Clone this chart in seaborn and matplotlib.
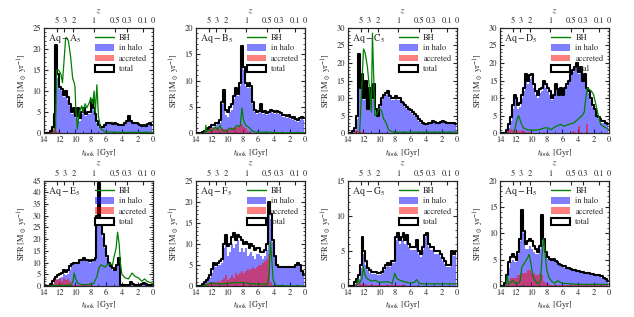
import numpy as np
import matplotlib
matplotlib.use("Agg")
import matplotlib.pyplot as plt
from matplotlib.lines import Line2D
from matplotlib.patches import Patch
from matplotlib.ticker import MultipleLocator, AutoMinorLocator
import seaborn as sns

# lookback-time bin centres, 0.25 Gyr wide, oldest first
t_bins = np.arange(13.875, 0, -0.25)

z_ticks = [5, 3, 2, 1, 0.5, 0.3, 0.1, 0]
z_labels = ["5", "3", "2", "1", "0.5", "0.3", "0.1", "0"]

names = ["A", "B", "C", "D", "E", "F", "G", "H"]
ymax = [25, 20, 30, 30, 45, 25, 15, 20]

# ---- Aq-A5
A_total = [0, 0, 0, 0.5, 1.5, 4.5, 21, 14,
           11, 10.5, 9, 10, 8.5, 7, 5, 6,
           4, 6, 3.5, 5, 6, 4.5, 5, 5,
           8, 6, 4.5, 3, 2, 1.5, 1.5, 2,
           2.5, 2.5, 2.5, 2.2, 2.5, 2.2, 2, 2,
           2, 2.5, 3, 4, 3, 2.5, 2.5, 2.5,
           2.2, 2, 1.8, 2, 1.8, 2.2, 2.5, 2]
A_halo = [0, 0, 0, 0.3, 0.8, 3.5, 12, 13,
          10.5, 10, 8.5, 9.5, 8, 6.5, 4.5, 5.5,
          3.5, 5.5, 3, 4.5, 5.5, 4, 4.5, 4.5,
          7.5, 5.5, 4, 2.5, 1.5, 1.2, 1.2, 1.8,
          2.2, 2.2, 2.2, 2, 2.2, 2, 1.8, 1.8,
          1.8, 2.2, 2.8, 3.8, 2.8, 2.2, 2.2, 2.2,
          2, 1.8, 1.6, 1.8, 1.6, 2, 2.2, 1.8]
A_accr = [0, 0, 0, 0.3, 1.2, 1.5, 0.5, 0.2,
          0.2, 0.1, 0.1, 0.1, 0.1, 0.1, 0.1, 0.1,
          0.1, 0.1, 0.1, 0.1, 0.1, 0.1, 0.1, 0.1,
          0.1, 0.1, 0, 0, 0, 0, 0, 0,
          0, 0, 0, 0, 0, 0, 0, 0,
          0, 0, 0, 0, 0, 0, 0, 0,
          0, 0, 0, 0, 0, 0, 0, 0]
A_bh_t = [12.5, 12.35, 12.1, 11.8, 11.6, 11.2, 11.1, 10.85, 10.55, 10.3, 10.1, 10.0,
          9.9, 9.7, 9.45, 9.15, 9.0, 8.7, 8.5, 8.1, 8.0, 7.75, 7.55, 7.4, 7.2,
          7.0, 6.7, 6.15, 4.0, 2.0, 0.0]
A_bh = [0, 15, 15, 14, 12, 22.5, 22.7, 22, 18, 13, 12, 11,
        6, 1, 5, 6.5, 5, 7, 6, 7.5, 8.5, 7, 10, 5, 11.5,
        4, 1, 0.3, 0.2, 0.2, 0.2]

# ---- Aq-B5
B_total = [0, 0, 0, 0.2, 0.5, 0.8, 1.0, 1.2,
           1.5, 1.5, 2.0, 2.0, 2.5, 6.0, 8.3, 4.5,
           4.0, 5.0, 5.5, 7.0, 8.5, 7.5, 9.5, 16.5,
           12.5, 9.5, 9.0, 9.5, 9.0, 6.0, 4.5, 4.0,
           4.2, 5.5, 4.0, 4.2, 3.8, 4.0, 4.5, 4.2,
           4.0, 4.3, 4.0, 3.8, 3.5, 3.5, 3.2, 3.5,
           3.0, 2.8, 3.0, 2.7, 2.5, 2.8, 3.0, 2.8]
B_halo = [0, 0, 0, 0.1, 0.3, 0.6, 0.8, 1.0,
          1.2, 1.2, 1.6, 1.7, 2.0, 5.5, 7.8, 3.5,
          3.0, 4.0, 4.5, 6.5, 8.0, 7.0, 9.0, 15.5,
          12.0, 9.0, 8.5, 9.0, 8.5, 5.5, 4.0, 3.6,
          3.8, 5.0, 3.6, 3.8, 3.4, 3.6, 4.0, 3.8,
          3.6, 3.9, 3.6, 3.4, 3.1, 3.1, 2.8, 3.1,
          2.7, 2.5, 2.7, 2.4, 2.2, 2.5, 2.7, 2.5]
B_accr = [0, 0, 0, 0.1, 0.3, 0.5, 0.8, 1.0,
          1.0, 0.8, 1.0, 1.2, 0.8, 1.0, 0.8, 0.8,
          0.5, 0.8, 1.0, 1.2, 1.0, 1.2, 1.5, 1.8,
          1.2, 1.0, 0.5, 0.3, 0.2, 0.1, 0.1, 0.1,
          0.1, 0.1, 0.1, 0.1, 0.1, 0.1, 0.1, 0.1,
          0, 0, 0, 0, 0, 0, 0, 0,
          0, 0, 0, 0, 0, 0, 0, 0]
B_bh_t = [13.0, 12.8, 12.7, 12.6, 12.3, 11.9, 11.5, 11.2, 10.9, 10.7, 10.4, 10.0,
          9.6, 9.3, 9.0, 8.8, 8.5, 8.3, 8.1, 7.9, 7.6, 7.3, 7.0, 6.7, 6.3,
          5.0, 3.0, 1.0, 0.0]
B_bh = [0, 0.2, 1.5, 0.3, 0.6, 0.5, 1.2, 0.6, 1.5, 0.8, 0.3, 0.5,
        1.0, 0.7, 0.8, 1.5, 1.3, 1.5, 4.8, 2.5, 1.5, 1.2, 0.8, 0.4, 0.2,
        0.2, 0.1, 0.1, 0.1]

# ---- Aq-C5
C_total = [0, 0, 0.5, 1.5, 5, 22.5, 13, 17,
           10, 15, 7, 13, 10, 14, 7, 5,
           8, 10, 11, 11.5, 12, 10.5, 10, 10,
           10.5, 10, 10, 9, 8.5, 8, 7.5, 7,
           6.5, 6, 5.5, 5, 4, 3.5, 3, 2.5,
           2.5, 2.8, 3.0, 3.5, 3.2, 3.0, 3.0, 3.2,
           3.5, 3.2, 3.0, 2.8, 2.8, 2.8, 2.8, 2.5]
C_halo = [0, 0, 0.3, 1.0, 4, 13, 12.5, 15,
          9.5, 13, 6.5, 12.5, 9.5, 13, 6.5, 4.5,
          7.5, 9.5, 10.5, 11, 11.5, 10, 9.5, 9.5,
          10, 9.5, 9.5, 8.5, 8, 7.5, 7, 6.5,
          6, 5.5, 5, 4.5, 3.5, 3, 2.6, 2.2,
          2.2, 2.5, 2.7, 3.2, 2.9, 2.7, 2.7, 2.9,
          3.2, 2.9, 2.7, 2.5, 2.5, 2.5, 2.5, 2.2]
C_accr = [0, 0, 0.2, 0.5, 0.8, 0.5, 0.3, 0.3,
          0.3, 0.2, 0.2, 0.2, 0.2, 0.2, 0.1, 0.1,
          0.1, 0.1, 0.1, 0.1, 0.1, 0.1, 0.1, 0.1,
          0, 0, 0, 0, 0, 0, 0, 0,
          0, 0, 0, 0, 0, 0, 0, 0,
          0, 0, 0, 0, 0, 0, 0, 0,
          0, 0, 0, 0, 0, 0, 0, 0]
C_bh_t = [12.5, 12.3, 12.0, 11.8, 11.5, 11.2, 11.0, 10.85, 10.55, 10.3, 10.0, 9.7,
          9.4, 9.1, 8.8, 8.4, 8.0, 6.0, 4.0, 2.0, 0.0]
C_bh = [0, 9, 24, 23, 19, 12, 6, 28.5, 5, 5.5, 7, 6.5,
        4, 3, 1, 0.5, 0.3, 0.3, 0.3, 0.3, 0.3]

# ---- Aq-D5
D_total = [0, 0, 0, 1, 2.5, 4.5, 8, 11,
           10, 8, 8.5, 11, 13, 17, 15, 16.5,
           17, 14, 12, 11, 12.5, 13, 15, 14,
           13, 12, 10, 11, 14, 12.5, 11, 13,
           11, 13, 14, 15, 17, 18, 19, 20,
           17.5, 19, 15, 17, 13, 12, 10, 8,
           7, 5, 4.5, 4, 3.5, 3.5, 3, 2.5]
D_halo = [0, 0, 0, 0.5, 1.5, 3.5, 7, 10,
          9, 7, 7.5, 10, 12, 16, 14, 15.5,
          16, 13, 11, 10, 11.5, 12, 14, 13,
          12, 11, 9.5, 10.5, 13, 12, 10.5, 12.5,
          10.5, 12.5, 13.5, 14.5, 16.5, 17.5, 18.5, 19.5,
          17, 18.5, 14.5, 16.5, 12.5, 11.5, 9.5, 7.5,
          6.5, 4.5, 4, 3.5, 3, 3, 2.7, 2.2]
D_accr = [0, 0, 0, 0.5, 1, 1.2, 1, 0.8,
          0.8, 0.5, 0.5, 0.8, 0.5, 0.3, 0.3, 0.3,
          0.2, 0.2, 0.2, 0.2, 0.2, 0.2, 0.3, 0.2,
          0.2, 0.2, 0.2, 0.2, 0.2, 0.2, 0.2, 0.2,
          0.2, 0.2, 0.2, 0.2, 0.2, 0.5, 0.3, 0.2,
          2.0, 0.3, 0.2, 0.2, 2.5, 0.2, 0.2, 0.1,
          0.1, 0.1, 0.1, 0.1, 0, 0, 0, 0]
D_bh_t = [12.2, 12.0, 11.8, 11.6, 11.3, 11.0, 10.5, 10.0, 9.0, 8.3, 7.8, 7.5, 6.8,
          6.2, 5.8, 5.2, 4.5, 4.0, 3.5, 3.2, 3.0, 2.8, 2.6, 2.3, 2.0, 1.7, 1.4,
          1.1, 0.8, 0.4, 0.0]
D_bh = [0, 2, 4, 5, 3, 1.5, 1, 0.8, 1, 1.5, 1.5, 1, 2,
        2.5, 2, 2.5, 3, 4, 5, 6, 10, 13, 12.5, 12, 11, 8, 5,
        2.5, 2, 1.5, 1]

# ---- Aq-E5
E_total = [0, 0, 0, 1, 2, 3, 4, 4.5,
           5, 5.5, 7, 6, 7, 8.5, 9.5, 10,
           10, 10, 11, 11, 12, 11, 11, 10.5,
           11, 11, 12, 30, 44, 28, 22, 17,
           13, 10, 8.5, 7.5, 7, 9, 12, 0.5,
           0.3, 0.3, 0.5, 0.5, 1.5, 1, 0.5, 0.3,
           0.3, 0.5, 0.8, 1.2, 0.8, 0.5, 0.3, 0.2]
E_halo = [0, 0, 0, 0.5, 1, 2, 2.5, 3,
          3.5, 4, 5, 4.5, 5, 7, 9, 9.5,
          9.5, 9.5, 10.5, 10.5, 11.5, 10.5, 10.5, 10,
          10.5, 10.5, 11.5, 29, 36, 27, 21, 16,
          12, 9, 8, 7, 6.5, 8.5, 11.5, 0.3,
          0.2, 0.2, 0.3, 0.3, 1.2, 0.8, 0.3, 0.2,
          0.2, 0.3, 0.6, 1.0, 0.6, 0.3, 0.2, 0.1]
E_accr = [0, 0, 0, 0.5, 1, 2, 3, 2.5,
          3.5, 2, 3.5, 2.5, 3, 2, 1, 0.5,
          0.3, 0.3, 0.3, 0.3, 0.2, 0.2, 0.2, 0.2,
          0.2, 0.1, 0.1, 0.1, 0.1, 0.1, 0.1, 0.1,
          0, 0, 0, 0, 0, 0, 0, 0,
          0, 0, 0, 0, 0, 0, 0, 0,
          0, 0, 0, 0, 0, 0, 0, 0]
E_bh_t = [13.3, 12.0, 11.0, 10.5, 10.25, 10.1, 9.9, 9.6, 9.2, 8.9, 8.5, 8.1, 7.6,
          7.2, 6.9, 6.65, 6.4, 6.15, 5.9, 5.5, 5.2, 5.0, 4.75, 4.55, 4.35, 4.2,
          4.0, 3.6, 3.15, 2.7, 2.3, 1.9, 1.45, 1.1, 0.8, 0.4, 0.0]
E_bh = [0, 0.3, 0.3, 0.3, 2, 5.5, 3, 1, 0.7, 0.5, 0.6, 0.7, 1,
        4, 8, 9, 8.5, 8, 9, 9.5, 9, 12.5, 16, 23, 18, 10,
        5, 3.5, 3, 5.5, 4, 3.5, 2, 3, 2, 1.5, 1]

# ---- Aq-F5
F_total = [0, 0, 0, 0.5, 1, 1.5, 2, 2.5,
           4, 5.5, 5, 5.5, 6, 6.5, 10, 12,
           9.5, 10, 11.5, 12.5, 11, 12, 11.5, 11,
           10, 10.5, 10, 9, 10, 9.5, 8.5, 9,
           9, 8, 8, 8.5, 10, 20, 17, 11,
           7, 5, 4.5, 4.5, 4.5, 4.5, 4.5, 4.5,
           4.5, 4.5, 4.5, 5, 5.5, 5, 3.5, 2.5]
F_halo = [0, 0, 0, 0.3, 0.8, 1.2, 1.5, 2,
          3, 5, 4.5, 5, 5, 5.5, 9, 10,
          7, 8, 10, 9, 10, 11, 8, 9,
          8, 9, 7, 7.5, 8, 7, 6.5, 7.5,
          7.5, 7, 6.5, 7, 8.5, 19, 16, 10.5,
          7, 5, 4.5, 4.5, 4.5, 4.5, 4.5, 4.5,
          4.5, 4.5, 4.5, 5, 5.5, 5, 3.5, 2.5]
F_accr = [0, 0, 0.3, 0.5, 0.5, 0.8, 0.8, 1,
          0.8, 1, 1, 1.2, 1, 1.5, 2, 2.5,
          1.5, 2, 2.5, 2, 3, 2.5, 3, 3.5,
          3, 3.5, 4, 3.5, 4, 4.5, 4, 4.5,
          5, 5, 5.5, 6, 6.5, 7.5, 1, 0.3,
          0.1, 0.1, 0.1, 0.1, 0.1, 0.1, 0.1, 0.1,
          0.1, 0.1, 0.1, 0.1, 0.1, 0.1, 0.1, 0.1]
F_bh_t = [13.2, 12.5, 12.0, 11.5, 10.5, 9.0, 8.0, 7.0, 6.0, 5.0, 4.8, 4.6, 4.45,
          4.3, 4.1, 3.9, 3.7, 2.0, 0.0]
F_bh = [0, 0.3, 0.8, 0.5, 0.5, 0.8, 0.8, 0.5, 0.5, 0.4, 0.5, 3, 10.5,
        7, 1.5, 0.5, 0.1, 0, 0]

# ---- Aq-G5
G_total = [0, 0, 0, 0.5, 1, 1.5, 3, 7,
           5, 3.5, 2.5, 2.2, 2, 2, 2, 1.8,
           1.8, 2, 2.5, 3, 3.3, 3, 3.5, 3.5,
           7, 7.5, 6.5, 7, 7.5, 6.5, 7.2, 6,
           5.5, 5.5, 5.5, 6.5, 5, 4.5, 5.5, 7.3,
           7.5, 6, 5.5, 5.5, 5, 5, 5, 4.5,
           4, 3.5, 3, 3, 3, 5, 4.5, 5]
G_halo = [0, 0, 0, 0.3, 0.6, 1.0, 2.5, 6.5,
          4.5, 3.0, 2.2, 1.9, 1.7, 1.7, 1.7, 1.5,
          1.5, 1.7, 2.2, 2.7, 3.0, 2.7, 3.2, 3.2,
          6.5, 7.2, 6.0, 6.5, 7.2, 6.0, 6.8, 5.6,
          5.1, 5.1, 5.1, 6.1, 4.6, 4.1, 5.1, 7.0,
          7.2, 5.6, 5.1, 5.1, 4.6, 4.6, 4.6, 4.1,
          3.6, 3.1, 2.7, 2.7, 2.7, 4.6, 4.2, 4.6]
G_accr = [0, 0, 0, 0.2, 0.4, 0.5, 0.3, 0.3,
          0.2, 0.3, 0.2, 0.2, 0.3, 0.2, 0.2, 0.2,
          0.2, 0.2, 0.2, 0.2, 0.2, 0.2, 0.3, 0.2,
          0.2, 0.1, 0.1, 0.1, 0.1, 0.1, 0, 0,
          0, 0, 0, 0, 0, 0, 0, 0,
          0, 0, 0, 0, 0, 0, 0, 0,
          0, 0, 0, 0, 0, 0, 0, 0]
G_bh_t = [12.9, 12.7, 12.5, 12.2, 12.0, 11.8, 11.5, 11.0, 10.5, 10.0, 9.0, 8.3,
          8.0, 7.7, 7.3, 6.8, 6.0, 5.5, 5.2, 4.9, 4.5, 3.0, 1.5, 0.0]
G_bh = [0, 1.0, 0.4, 1.0, 2.8, 1.5, 1.0, 0.7, 0.8, 0.5, 0.6, 0.4,
        1.8, 1.0, 0.8, 0.6, 0.4, 0.5, 0.9, 0.4, 0.3, 0.3, 0.3, 0.3]

# ---- Aq-H5
H_total = [0, 0, 0.5, 2, 4.5, 5.5, 6, 5.5,
           5, 6.5, 9, 14.5, 10.5, 8, 8.5, 9,
           8.5, 7.5, 7, 6.5, 7.5, 13.5, 9, 6.5,
           5.5, 5.2, 5, 5.2, 4.8, 4.5, 4.2, 4,
           3.8, 3.7, 3.5, 3.4, 3.2, 3.1, 3, 2.9,
           2.8, 2.7, 2.6, 2.5, 2.5, 2.4, 2.3, 2.2,
           2.1, 2.0, 2.0, 1.9, 1.8, 1.6, 1.4, 1.0]
H_halo = [0, 0, 0.3, 1.5, 3.5, 4.5, 5, 4.5,
          4.5, 6, 8.5, 14, 10, 7, 7, 7.5,
          7, 6.5, 6, 6, 7, 13, 8.5, 6,
          5.2, 5, 4.8, 5, 4.6, 4.3, 4, 3.8,
          3.6, 3.5, 3.3, 3.2, 3, 2.9, 2.8, 2.7,
          2.6, 2.5, 2.4, 2.3, 2.3, 2.2, 2.1, 2.0,
          1.9, 1.8, 1.8, 1.7, 1.6, 1.4, 1.2, 0.8]
H_accr = [0, 0, 0.2, 0.5, 1, 1.5, 1.5, 1.5,
          1.5, 2, 2, 2.5, 2.5, 2.5, 3, 3,
          2.5, 2.5, 2, 2, 2.5, 2, 1, 0.5,
          0.3, 0.2, 0.2, 0.2, 0.2, 0.2, 0.2, 0.2,
          0.1, 0.1, 0.1, 0.1, 0.1, 0.1, 0.1, 0.1,
          0.1, 0.1, 0.1, 0.1, 0.1, 0.1, 0.1, 0.1,
          0.1, 0.1, 0.1, 0.1, 0.1, 0.1, 0.1, 0.1]
H_bh_t = [13.2, 13.05, 12.9, 12.7, 12.4, 12.0, 11.6, 11.4, 11.2, 11.0, 10.8, 10.6,
          10.4, 10.25, 10.0, 9.8, 9.5, 9.2, 9.0, 8.8, 8.6, 8.4, 8.2, 8.0, 7.7,
          7.3, 7.0, 6.6, 6.3, 6.0, 4.0, 2.0, 0.0]
H_bh = [0, 2, 0.5, 0.5, 1, 0.5, 0.5, 1, 3.5, 4, 4.5, 5,
        5.5, 6, 4, 2, 1, 0.5, 0.5, 1, 6, 9, 6, 3, 1.5,
        0.8, 0.5, 1, 0.7, 0.5, 0.3, 0.3, 0.3]

data = {
    "A": (A_total, A_halo, A_accr, A_bh_t, A_bh),
    "B": (B_total, B_halo, B_accr, B_bh_t, B_bh),
    "C": (C_total, C_halo, C_accr, C_bh_t, C_bh),
    "D": (D_total, D_halo, D_accr, D_bh_t, D_bh),
    "E": (E_total, E_halo, E_accr, E_bh_t, E_bh),
    "F": (F_total, F_halo, F_accr, F_bh_t, F_bh),
    "G": (G_total, G_halo, G_accr, G_bh_t, G_bh),
    "H": (H_total, H_halo, H_accr, H_bh_t, H_bh),
}


def lookback(z, om=0.25, h=0.73):
    # flat LCDM lookback time in Gyr
    zz = np.linspace(0, z, 2000)
    f = 1.0 / ((1 + zz) * np.sqrt(om * (1 + zz) ** 3 + 1 - om))
    return 977.8 / (100 * h) * np.trapezoid(f, zz)


sns.set_style("ticks", {"xtick.direction": "in", "ytick.direction": "in"})
plt.rcParams["font.family"] = ["STIXGeneral", "DejaVu Serif"]
plt.rcParams["mathtext.fontset"] = "stix"
plt.rcParams["font.size"] = 6
plt.rcParams["axes.linewidth"] = 0.8

fig, axes = plt.subplots(2, 4, figsize=(6.34, 3.17), dpi=100)
fig.subplots_adjust(left=0.069, right=0.961, bottom=0.098, top=0.912,
                    wspace=0.39, hspace=0.45)

z_pos = [lookback(z) for z in z_ticks]

for ax, name, ytop in zip(axes.flat, names, ymax):
    total, halo, accr, bh_t, bh = data[name]
    ax.fill_between(t_bins, halo, step="mid", color=(0, 0, 1), alpha=0.5, lw=0)
    ax.fill_between(t_bins, accr, step="mid", color=(1, 0, 0), alpha=0.5, lw=0)
    sns.lineplot(x=t_bins, y=total, ax=ax, color="k", lw=1.5,
                 drawstyle="steps-mid", estimator=None, sort=False)
    sns.lineplot(x=bh_t, y=bh, ax=ax, color="green", lw=0.9,
                 estimator=None, sort=False)

    ax.set_xlim(14, 0)
    ax.set_ylim(0, ytop)
    ax.xaxis.set_major_locator(MultipleLocator(2))
    ax.xaxis.set_minor_locator(AutoMinorLocator(2))
    ax.yaxis.set_major_locator(MultipleLocator(5))
    ax.yaxis.set_minor_locator(AutoMinorLocator(5))
    ax.tick_params(which="both", direction="in", right=True, top=False,
                   labelsize=6, pad=2)
    ax.tick_params(which="major", length=3)
    ax.tick_params(which="minor", length=1.5)
    ax.set_xlabel(r"$t_{\rm look}$ [Gyr]", fontsize=6, labelpad=2)
    ax.set_ylabel(r"SFR [M$_\odot$ yr$^{-1}$]", fontsize=6, labelpad=2)
    ax.text(0.04, 0.96, r"$\rm Aq - " + name + r"_5$", transform=ax.transAxes,
            ha="left", va="top", fontsize=7)

    top = ax.twiny()
    top.set_xlim(14, 0)
    top.set_xticks(z_pos)
    top.set_xticklabels(z_labels)
    top.tick_params(direction="in", length=3, labelsize=6, pad=2)
    top.set_xlabel(r"$z$", fontsize=6, labelpad=3)

    handles = [Line2D([], [], color="green", lw=1),
               Patch(facecolor=(0, 0, 1), alpha=0.5, lw=0),
               Patch(facecolor=(1, 0, 0), alpha=0.5, lw=0),
               Patch(facecolor="white", edgecolor="k", lw=1.5)]
    ax.legend(handles, ["BH", "in halo", "accreted", "total"], loc="upper right",
              frameon=False, fontsize=6, handlelength=2.3, handleheight=0.9,
              labelspacing=0.25, borderaxespad=0.3, handletextpad=0.6)

fig.savefig("out.png", dpi=100)
